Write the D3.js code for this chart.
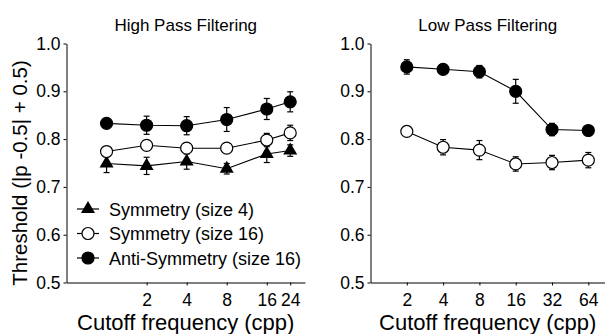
<!DOCTYPE html>
<html>
<head>
<meta charset="utf-8">
<script src="https://cdn.jsdelivr.net/npm/d3@7"></script>
<style>
  body { margin: 0; background: #fff; }
  svg { font-family: "Liberation Sans", Arial, Helvetica, sans-serif; }
  .axis path, .axis line { stroke: #000; stroke-width: 1; }
  .axis text { font-size: 17.5px; fill: #000; }
</style>
</head>
<body>
<div id="chart"></div>
<script>
// High pass panel
const hpCutoffs = [1, 2, 4, 8, 16, 24];
const hpTicks = [2, 4, 8, 16, 24];
const hpSym4 = [0.749, 0.744, 0.753, 0.738, 0.769, 0.776];
const hpSym4Err = [0.019, 0.018, 0.016, 0.011, 0.018, 0.012];
const hpSym16 = [0.774, 0.787, 0.781, 0.781, 0.798, 0.813];
const hpSym16Err = [0.006, 0.006, 0.011, 0.010, 0.014, 0.016];
const hpAnti = [0.833, 0.829, 0.828, 0.841, 0.863, 0.878];
const hpAntiErr = [0.005, 0.019, 0.019, 0.025, 0.022, 0.021];

// Low pass panel
const lpCutoffs = [2, 4, 8, 16, 32, 64];
const lpTicks = [2, 4, 8, 16, 32, 64];
const lpSym16 = [0.816, 0.783, 0.777, 0.748, 0.751, 0.756];
const lpSym16Err = [0.009, 0.016, 0.020, 0.015, 0.015, 0.016];
const lpAnti = [0.951, 0.946, 0.941, 0.900, 0.820, 0.818];
const lpAntiErr = [0.015, 0.008, 0.013, 0.025, 0.013, 0.007];

const yTicks = [0.5, 0.6, 0.7, 0.8, 0.9, 1.0];
const legendLabels = ["Symmetry (size 4)", "Symmetry (size 16)", "Anti-Symmetry (size 16)"];

const width = 605, height = 334;
const plotTop = 43.5, plotBottom = 282.5;

const svg = d3.select('#chart')
    .append('svg')
    .attr('width', width)
    .attr('height', height);

const yScale = d3.scaleLinear().domain([0.5, 1.0]).range([plotBottom, plotTop]);

function drawSeries(g, xScale, xs, ys, errs, kind) {
    const pts = xs.map((x, i) => ({ x, y: ys[i], e: errs[i] }));

    g.append('path')
        .datum(pts)
        .attr('fill', 'none')
        .attr('stroke', '#000')
        .attr('stroke-width', 1.1)
        .attr('d', d3.line().x(d => xScale(d.x)).y(d => yScale(d.y)));

    // error bars
    const eb = g.append('g').attr('stroke', '#000').attr('stroke-width', 1.2);
    eb.selectAll(null)
        .data(pts)
        .join('line')
        .attr('x1', d => xScale(d.x)).attr('x2', d => xScale(d.x))
        .attr('y1', d => yScale(d.y - d.e)).attr('y2', d => yScale(d.y + d.e));
    [-1, 1].forEach(s => {
        eb.selectAll(null)
            .data(pts)
            .join('line')
            .attr('x1', d => xScale(d.x) - 3).attr('x2', d => xScale(d.x) + 3)
            .attr('y1', d => yScale(d.y + s * d.e)).attr('y2', d => yScale(d.y + s * d.e));
    });

    drawMarkers(g, pts.map(d => [xScale(d.x), yScale(d.y)]), kind);
}

function drawMarkers(g, coords, kind) {
    if (kind === 'triangle') {
        g.selectAll(null)
            .data(coords)
            .join('path')
            .attr('transform', d => `translate(${d[0]},${d[1]})`)
            .attr('d', d3.symbol().type(d3.symbolTriangle).size(85))
            .attr('fill', '#000');
    } else {
        g.selectAll(null)
            .data(coords)
            .join('circle')
            .attr('cx', d => d[0]).attr('cy', d => d[1])
            .attr('r', 6)
            .attr('fill', kind === 'open' ? '#fff' : '#000')
            .attr('stroke', '#000')
            .attr('stroke-width', 1.2);
    }
}

function drawAxes(xScale, ticks, x0, title) {
    const yAxis = d3.axisLeft(yScale)
        .tickValues(yTicks)
        .tickFormat(d3.format('.1f'))
        .tickSize(3)
        .tickSizeOuter(0)
        .tickPadding(3);
    svg.append('g')
        .attr('class', 'axis')
        .attr('transform', `translate(${x0},0)`)
        .call(yAxis);

    const xAxis = d3.axisBottom(xScale)
        .tickValues(ticks)
        .tickFormat(d3.format('d'))
        .tickSize(3)
        .tickSizeOuter(0)
        .tickPadding(8);
    svg.append('g')
        .attr('class', 'axis')
        .attr('transform', `translate(0,${plotBottom})`)
        .call(xAxis);

    const [r0, r1] = xScale.range();
    svg.append('text')
        .attr('x', (r0 + r1) / 2)
        .attr('y', 31)
        .attr('text-anchor', 'middle')
        .style('font-size', '17px')
        .text(title);

    svg.append('text')
        .attr('x', (r0 + r1) / 2)
        .attr('y', 330)
        .attr('text-anchor', 'middle')
        .style('font-size', '22px')
        .text('Cutoff frequency (cpp)');
}

// left panel
const xHP = d3.scaleLog().base(2).domain([0.5, 31]).range([66.5, 305]);
drawAxes(xHP, hpTicks, 66.5, 'High Pass Filtering');
const gHP = svg.append('g');
drawSeries(gHP, xHP, hpCutoffs, hpSym4, hpSym4Err, 'triangle');
drawSeries(gHP, xHP, hpCutoffs, hpSym16, hpSym16Err, 'open');
drawSeries(gHP, xHP, hpCutoffs, hpAnti, hpAntiErr, 'filled');

// right panel
const xLP = d3.scaleLog().base(2).domain([1, 88]).range([370.5, 605]);
drawAxes(xLP, lpTicks, 370.5, 'Low Pass Filtering');
const gLP = svg.append('g');
drawSeries(gLP, xLP, lpCutoffs, lpSym16, lpSym16Err, 'open');
drawSeries(gLP, xLP, lpCutoffs, lpAnti, lpAntiErr, 'filled');

// y axis title
svg.append('text')
    .attr('transform', `translate(27,${(plotTop + plotBottom) / 2 + 10}) rotate(-90)`)
    .attr('text-anchor', 'middle')
    .style('font-size', '20.5px')
    .text('Threshold (|p -0.5| + 0.5)');

// legend
const legendKinds = ['triangle', 'open', 'filled'];
const legend = svg.append('g');
legendLabels.forEach((label, i) => {
    const y = 209 + i * 24.5;
    legend.append('line')
        .attr('x1', 77).attr('x2', 99)
        .attr('y1', y).attr('y2', y)
        .attr('stroke', '#000').attr('stroke-width', 1.2);
    drawMarkers(legend, [[88, y]], legendKinds[i]);
    legend.append('text')
        .attr('x', 109)
        .attr('y', y + 6.5)
        .style('font-size', '18px')
        .text(label);
});
</script>
</body>
</html>
